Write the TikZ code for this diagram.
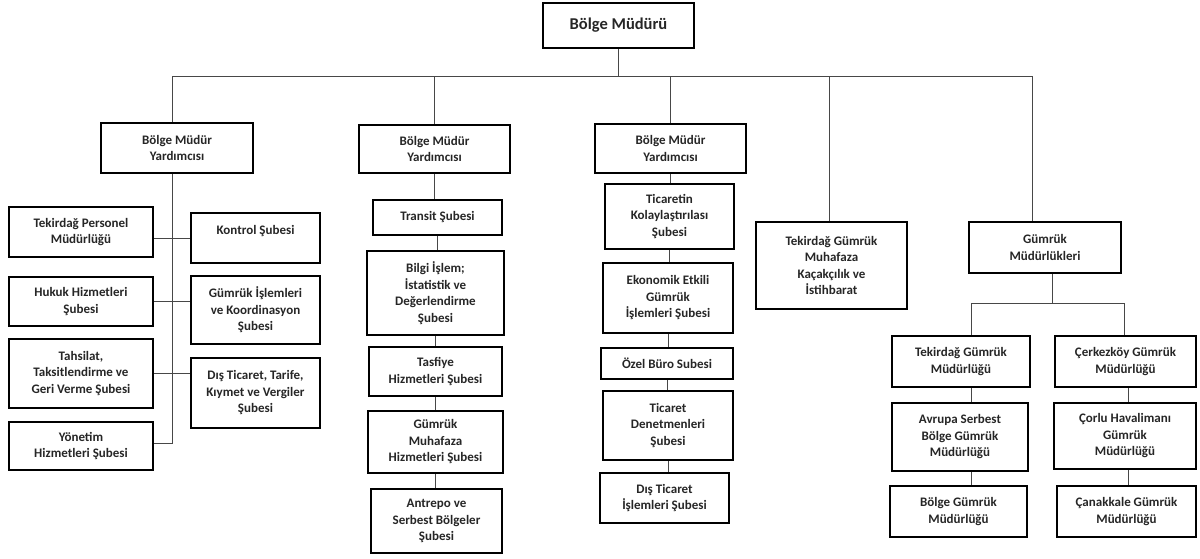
\documentclass[tikz,border=0pt]{standalone}
\usepackage{fontspec}
\setmainfont{Carlito}
% box from its corner coordinates: name, x1, y1, x2, y2, text
\newcommand{\orgbox}[6]{%
  \node[ob, minimum width={#4-#2}, minimum height={#5-#3}] (#1)
    at ({(#2+#4)/2},{(#3+#5)/2}) {#6};}
\begin{document}
\begin{tikzpicture}[x=1pt,y=-1pt,
  ob/.style={draw=black, line width=2.3pt, fill=white, align=center,
    font=\bfseries\fontsize{13}{16.5}\selectfont, text=black!85,
    inner sep=1pt},
  link/.style={draw=black!72, line width=0.9pt}]
\useasboundingbox (0,0) rectangle (1200,558);

% head of the region
\node[ob, minimum width=151, minimum height=45,
  font=\bfseries\fontsize{16.5}{19}\selectfont] (head) at (618.5,25.5) {Bölge Müdürü};

% first deputy and its units
\orgbox{dA}{101}{123}{253}{173}{Bölge Müdür\\Yardımcısı}
\orgbox{per}{9}{207}{153}{257}{Tekirdağ Personel\\Müdürlüğü}
\orgbox{huk}{9}{277}{153}{326}{Hukuk Hizmetleri\\Şubesi}
\orgbox{tah}{9}{339}{153}{408}{Tahsilat,\\Taksitlendirme ve\\Geri Verme Şubesi}
\orgbox{yon}{9}{422}{153}{470}{Yönetim\\Hizmetleri Şubesi}
\orgbox{kon}{191}{213}{320}{263}{Kontrol Şubesi\\\mbox{}}
\orgbox{gis}{191}{276}{320}{344}{Gümrük İşlemleri\\ve Koordinasyon\\Şubesi}
\orgbox{dis}{191}{358}{320}{428}{Dış Ticaret, Tarife,\\Kıymet ve Vergiler\\Şubesi}

% second deputy and its units
\orgbox{dB}{359}{125}{510}{173}{Bölge Müdür\\Yardımcısı}
\orgbox{tra}{373}{200}{502}{235}{Transit Şubesi}
\orgbox{bil}{367}{251}{504}{335}{Bilgi İşlem;\\İstatistik ve\\Değerlendirme\\Şubesi}
\orgbox{tas}{369}{347}{502}{396}{Tasfiye\\Hizmetleri Şubesi}
\orgbox{gmh}{368}{411}{503}{473}{Gümrük\\Muhafaza\\Hizmetleri Şubesi}
\orgbox{ant}{371}{489}{502}{553}{Antrepo ve\\Serbest Bölgeler\\Şubesi}

% third deputy and its units
\orgbox{dC}{595}{124}{746}{173}{Bölge Müdür\\Yardımcısı}
\orgbox{tic}{605}{184}{734}{249}{Ticaretin\\Kolaylaştırılası\\Şubesi}
\orgbox{eko}{603}{263}{733}{333}{Ekonomik Etkili\\Gümrük\\İşlemleri Şubesi}
\orgbox{oze}{601}{348}{733}{379}{Özel Büro Subesi}
\orgbox{den}{603}{391}{733}{460}{Ticaret\\Denetmenleri\\Şubesi}
\orgbox{dti}{600}{473}{729}{523}{Dış Ticaret\\İşlemleri Şubesi}

% smuggling and intelligence unit
\orgbox{muh}{756}{222}{907}{309}{Tekirdağ Gümrük\\Muhafaza\\Kaçakçılık ve\\İstihbarat}

% customs directorates
\orgbox{gm}{969}{222}{1121}{273}{Gümrük\\Müdürlükleri}
\orgbox{tek}{892}{336}{1030}{387}{Tekirdağ Gümrük\\Müdürlüğü}
\orgbox{avr}{892}{403}{1028}{471}{Avrupa Serbest\\Bölge Gümrük\\Müdürlüğü}
\orgbox{bgm}{890}{486}{1027}{537}{Bölge Gümrük\\Müdürlüğü}
\orgbox{cer}{1055}{336}{1196}{387}{Çerkezköy Gümrük\\Müdürlüğü}
\orgbox{cor}{1054}{403}{1196}{469}{Çorlu Havalimanı\\Gümrük\\Müdürlüğü}
\orgbox{can}{1057}{486}{1196}{537}{Çanakkale Gümrük\\Müdürlüğü}

% main bus under the head
\coordinate (busL) at (172,76);
\coordinate (busR) at (1032,76);
\draw[link] (busL) -- (busR);
\draw[link] (head.south) -- (head.south |- busL);
\draw[link] (busL) -- (busL |- dA.north);
\draw[link] (dB.north |- busL) -- (dB.north);
\draw[link] (dC.north |- busL) -- (dC.north);
\draw[link] (829,76) coordinate (mT) -- (mT |- muh.north);
\draw[link] (busR) -- (busR |- gm.north);

% first deputy: central trunk with side branches
\coordinate (trunk) at (172,443);
\draw[link] (trunk |- dA.south) -- (trunk) -- (trunk -| yon.east);
\draw[link] (per.east |- kon.west) -- (kon.west);
\draw[link] (huk.east) -- (huk.east -| gis.west);
\draw[link] (tah.east) -- (tah.east -| dis.west);

% second deputy: vertical chain
\foreach \a/\b in {dB/tra, tra/bil, bil/tas, tas/gmh, gmh/ant}
  \draw[link] (\a.south) -- (\a.south |- \b.north);

% third deputy: vertical chain
\foreach \a/\b in {dC/tic, tic/eko, eko/oze, oze/den, den/dti}
  \draw[link] (\a.south) -- (\a.south |- \b.north);

% customs directorates: split into two columns
\coordinate (split) at (1052,303);
\coordinate (jl) at (971,303);
\coordinate (jr) at (1124,303);
\draw[link] (split |- gm.south) -- (split);
\draw[link] (jl |- tek.north) -- (jl) -- (jr) -- (jr |- cer.north);
\coordinate (cl) at (971,0);
\draw[link] (cl |- tek.south) -- (cl |- avr.north);
\draw[link] (cl |- avr.south) -- (cl |- bgm.north);
\coordinate (cr) at (1128,0);
\draw[link] (cr |- cer.south) -- (cr |- cor.north);
\draw[link] (cr |- cor.south) -- (cr |- can.north);
\end{tikzpicture}
\end{document}
